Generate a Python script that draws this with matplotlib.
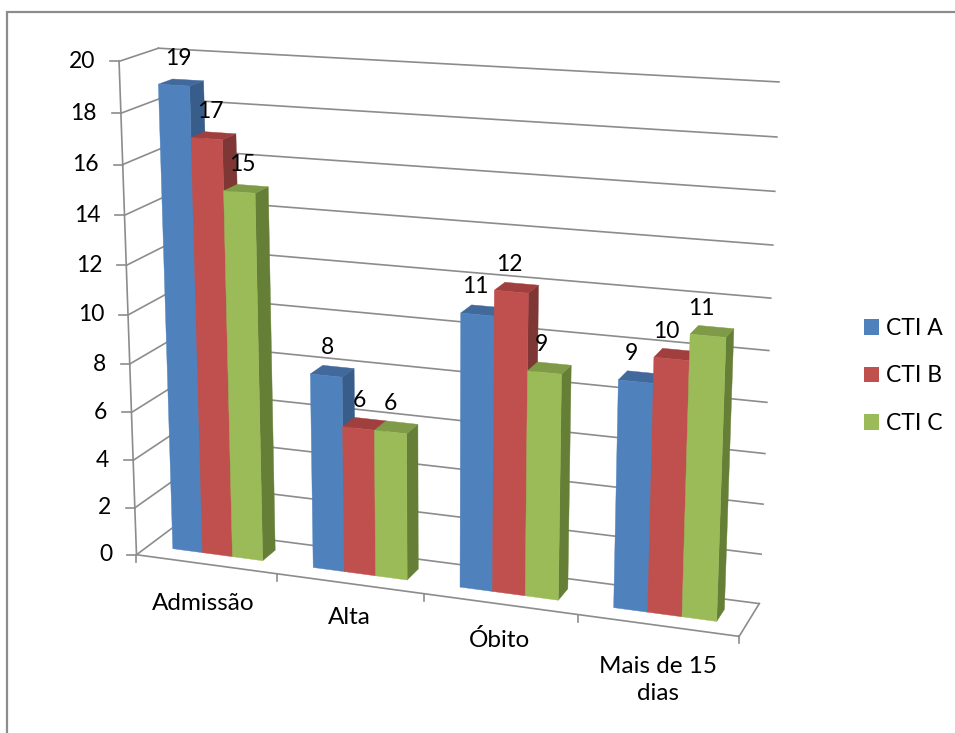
import numpy as np
import matplotlib
matplotlib.use("Agg")
import matplotlib.pyplot as plt
from matplotlib.patches import Polygon, Patch

plt.rcParams['font.family'] = ['Lato', 'DejaVu Sans']

# Chart data
categories = ["Admissão", "Alta", "Óbito", "Mais de 15\ndias"]
series_names = ["CTI A", "CTI B", "CTI C"]
cti_a = [19, 8, 11, 9]
cti_b = [17, 6, 12, 10]
cti_c = [15, 6, 9, 11]
y_ticks = list(range(0, 21, 2))

# Face colours: front, right side, top
front_colors = ["#4F81BD", "#C0504D", "#9BBB59"]
side_colors = ["#385D8A", "#7F3735", "#667F37"]
top_colors = ["#41699C", "#A03F3D", "#7F9B47"]
GRID = "#8C8C8C"
TEXT = "#000000"
FONT = 17.5
NUM_FONT = 16.5

# Camera: scene coordinates (category, value, depth) against canvas pixels
scene_pts = np.array([
    (0, 0, 0), (1, 0, 0), (2, 0, 0), (3, 0, 0), (4, 0, 0),
    (0, 20, 0), (0, 0, 1), (4, 0, 1), (0, 20, 1), (4, 20, 1),
], float)
canvas_pts = np.array([
    (137, 552), (277, 575), (424, 597), (577, 617), (739, 633),
    (119.5, 60.5), (173, 527), (760, 603), (158, 49), (779, 82),
], float)


def fit_camera(scene, canvas):
    rows, rhs = [], []
    for (x, y, z), (px, py) in zip(scene, canvas):
        rows.append([x, y, z, 1, 0, 0, 0, 0, -px * x, -px * y, -px * z])
        rows.append([0, 0, 0, 0, x, y, z, 1, -py * x, -py * y, -py * z])
        rhs += [px, py]
    sol = np.linalg.lstsq(np.array(rows), np.array(rhs), rcond=None)[0]
    return np.append(sol, 1.0).reshape(3, 4)


CAMERA = fit_camera(scene_pts, canvas_pts)


def project(x, y, z):
    h = CAMERA @ np.array([x, y, z, 1.0])
    return h[0] / h[2], h[1] / h[2]


fig = plt.figure(figsize=(9.55, 7.33), dpi=100)
ax = fig.add_axes([0, 0, 1, 1])
ax.set_xlim(0, 955)
ax.set_ylim(733, 0)
ax.axis("off")

# Outer chart border
ax.plot([7, 7, 955], [733, 12, 12], color=GRID, lw=1.6, solid_joinstyle="miter")


def seg(a, b, **kw):
    p, q = project(*a), project(*b)
    ax.plot([p[0], q[0]], [p[1], q[1]], color=GRID, lw=1.2, **kw)


# Walls, floor and axis lines
n_cat = len(categories)
for v in y_ticks:
    seg((0, v, 1), (n_cat, v, 1))
    seg((0, v, 0), (0, v, 1))
    px, py = project(0, v, 0)
    ax.plot([px - 9, px], [py, py], color=GRID, lw=1.2)
    ax.annotate(str(v), (px, py), xytext=(-24, 0), textcoords="offset pixels",
                ha="right", va="center", fontsize=NUM_FONT, color=TEXT)
seg((0, 0, 0), (0, 20, 0))
seg((0, 0, 0), (n_cat, 0, 0))
seg((n_cat, 0, 0), (n_cat, 0, 1))
for i in range(n_cat + 1):
    px, py = project(i, 0, 0)
    ax.plot([px, px], [py, py + 7], color=GRID, lw=1.2)

# Bars
BAR_START = 0.175
BAR_W = 0.215
D0, D1 = 0.33, 0.7
for c in range(n_cat):
    for s, values in enumerate([cti_a, cti_b, cti_c]):
        v = values[c]
        x0 = c + BAR_START + s * BAR_W
        x1 = x0 + BAR_W
        front = [(x0, 0, D0), (x1, 0, D0), (x1, v, D0), (x0, v, D0)]
        side = [(x1, 0, D0), (x1, 0, D1), (x1, v, D1), (x1, v, D0)]
        top = [(x0, v, D0), (x1, v, D0), (x1, v, D1), (x0, v, D1)]
        for face, col in ((side, side_colors[s]), (top, top_colors[s]), (front, front_colors[s])):
            ax.add_patch(Polygon([project(*p) for p in face], closed=True,
                                 facecolor=col, edgecolor=col, lw=0.3, zorder=3 + c))

# Value labels sit above the front top edge of each bar, drifting left across the chart
for c in range(n_cat):
    for s, values in enumerate([cti_a, cti_b, cti_c]):
        v = values[c]
        xc = c + BAR_START + (s + 0.5) * BAR_W
        px, py = project(xc, v, D0)
        drift = 4.5 - 0.02 * (px - 170)
        lift = 29 - 0.12 * v
        ax.annotate(str(v), (px, py), xytext=(drift, lift), textcoords="offset pixels",
                    ha="center", va="center", fontsize=NUM_FONT, color=TEXT, zorder=20)

# Category labels
label_xy = [(203, 603), (349, 618), (499, 640), (658, 680)]
for name, (lx, ly) in zip(categories, label_xy):
    ax.text(lx, ly, name, ha="center", va="center", fontsize=FONT, color=TEXT,
            linespacing=1.35)

# Legend
handles = [Patch(facecolor=col, edgecolor="none", label=name)
           for col, name in zip(front_colors, series_names)]
ax.legend(handles=handles, loc="center left", bbox_to_anchor=(864, 376),
          bbox_transform=ax.transData, frameon=False, fontsize=NUM_FONT,
          handlelength=0.655, handleheight=0.655, handletextpad=0.3,
          labelspacing=1.16, borderpad=0, borderaxespad=0)

fig.savefig("out.png", dpi=100)
